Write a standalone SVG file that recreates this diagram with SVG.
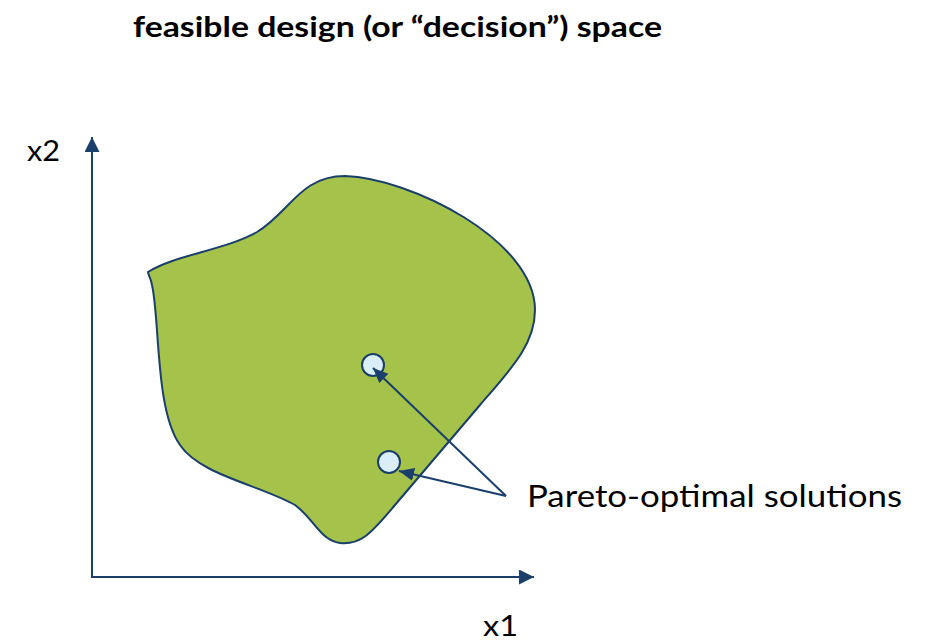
<svg xmlns="http://www.w3.org/2000/svg" width="930" height="644" viewBox="0 0 930 644">
<style>
.ln{stroke:#1A3F6B;stroke-width:2;fill:none}
.t{font-family:Lato,"Open Sans","Liberation Sans",sans-serif;fill:#000}
.pt{fill:#DAEEF8;stroke:#1A3F6B;stroke-width:2}
</style>
<defs>
<marker id="big" markerUnits="userSpaceOnUse" markerWidth="16" markerHeight="16" refX="15" refY="7.5" orient="auto"><path d="M0,0 L15,7.5 L0,15 Z" fill="#1A3F6B"/></marker>
<marker id="sm" markerUnits="userSpaceOnUse" markerWidth="16" markerHeight="14" refX="15" refY="6.5" orient="auto"><path d="M0,0 L15,6.5 L0,13 Z" fill="#1A3F6B"/></marker>
</defs>
<rect width="930" height="644" fill="#fff"/>
<text class="t" x="133" y="37" font-size="29" font-weight="bold" textLength="529" lengthAdjust="spacingAndGlyphs">feasible design (or “decision”) space</text>
<g id="region">
<path d="M148,272 C175,255 225,250 257,232 C290,212 300,176 345,176 C410,178 535,240 535,310 C535,345 510,370 480,405 L395,505 C370,535 360,545 340,543 C320,540 315,520 295,505 C260,485 200,475 180,445 C155,410 160,320 152,285 C151,278 148,275 148,272 Z" fill="#A5C24A" stroke="#1A3F6B" stroke-width="2"/>
</g>
<g id="p1"><circle class="pt" cx="373" cy="365" r="11"/></g>
<g id="p2"><circle class="pt" cx="389" cy="462" r="11"/></g>
<g id="connectors">
<line class="ln" x1="92" y1="576" x2="92" y2="137" marker-end="url(#big)"/>
<line class="ln" x1="91" y1="577" x2="534" y2="577" marker-end="url(#big)"/>
<line class="ln" x1="506" y1="496" x2="373" y2="368" marker-end="url(#sm)"/>
<line class="ln" x1="506" y1="496" x2="399" y2="471" marker-end="url(#sm)"/>
</g>
<g id="labels">
<text class="t" x="27" y="161" font-size="29" textLength="33" lengthAdjust="spacingAndGlyphs">x2</text>
<text class="t" x="483" y="636" font-size="29" textLength="35" lengthAdjust="spacingAndGlyphs">x1</text>
<text class="t" x="527" y="507" font-size="30" textLength="375" lengthAdjust="spacingAndGlyphs">Pareto-optimal solutions</text>
</g>
</svg>
